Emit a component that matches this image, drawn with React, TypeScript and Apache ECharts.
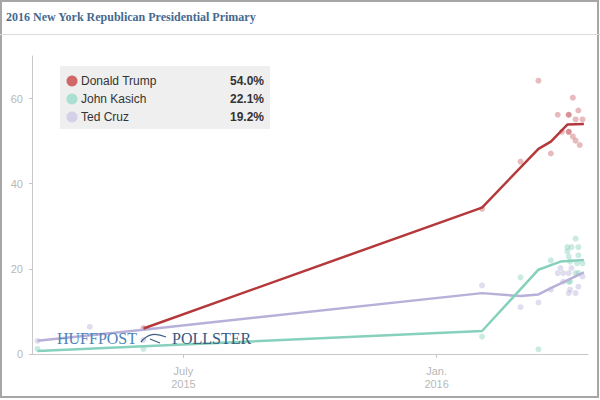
import React, { useEffect, useRef } from "react";
import * as echarts from "echarts";

const titleText = "2016 New York Republican Presidential Primary";
const candidates = ["Donald Trump", "John Kasich", "Ted Cruz"];
const finalValues = ["54.0%", "22.1%", "19.2%"];

const xRange = ["2015-03-13", "2016-04-20"];
const xTickDates = ["2015-07-01", "2016-01-01"];
const xTickLabels = ["July\n2015", "Jan.\n2016"];
const yTicks = [0, 20, 40, 60];

const trumpTrend: [string, number][] = [
  ["2015-06-02", 6.0], ["2016-02-03", 34.4], ["2016-03-15", 48.2],
  ["2016-03-24", 49.9], ["2016-04-05", 53.9], ["2016-04-17", 54.0],
];
const kasichTrend: [string, number][] = [
  ["2015-03-17", 0.7], ["2016-02-03", 5.4], ["2016-03-15", 19.8],
  ["2016-03-31", 21.7], ["2016-04-17", 22.1],
];
const cruzTrend: [string, number][] = [
  ["2015-03-17", 3.1], ["2015-06-02", 5.7], ["2016-02-03", 14.3],
  ["2016-03-02", 13.6], ["2016-03-15", 14.0], ["2016-03-24", 15.5],
  ["2016-04-17", 19.2],
];

const trumpPolls: [string, number][] = [
  ["2015-06-02", 6.1], ["2016-02-03", 34.1], ["2016-03-02", 45.2],
  ["2016-03-15", 64.2], ["2016-03-24", 47.1], ["2016-03-29", 56.2],
  ["2016-04-01", 52.2], ["2016-04-06", 56.2], ["2016-04-06", 56.2],
  ["2016-04-06", 52.2], ["2016-04-06", 52.2], ["2016-04-09", 60.2],
  ["2016-04-09", 51.1], ["2016-04-11", 55.1], ["2016-04-11", 50.1],
  ["2016-04-13", 57.2], ["2016-04-14", 49.1], ["2016-04-16", 55.1],
];
const kasichPolls: [string, number][] = [
  ["2015-03-17", 1.2], ["2015-06-02", 1.2], ["2016-02-03", 4.1],
  ["2016-03-02", 18.0], ["2016-03-15", 1.1], ["2016-03-24", 22.0],
  ["2016-04-05", 25.1], ["2016-04-05", 24.1], ["2016-04-06", 22.9],
  ["2016-04-07", 21.7], ["2016-04-08", 25.1], ["2016-04-07", 17.0],
  ["2016-04-06", 17.0], ["2016-04-11", 27.1], ["2016-04-11", 19.0],
  ["2016-04-12", 21.3], ["2016-04-13", 25.1], ["2016-04-13", 23.2],
  ["2016-04-13", 19.0], ["2016-04-16", 21.3],
];
const cruzPolls: [string, number][] = [
  ["2015-03-17", 3.1], ["2015-04-24", 6.4], ["2015-06-02", 3.3],
  ["2016-02-03", 16.1], ["2016-03-02", 11.0], ["2016-03-15", 12.1],
  ["2016-03-24", 15.1], ["2016-03-29", 19.0], ["2016-03-31", 20.2],
  ["2016-04-02", 19.0], ["2016-04-02", 17.0], ["2016-04-06", 19.0],
  ["2016-04-06", 14.3], ["2016-04-07", 15.1], ["2016-04-08", 20.2],
  ["2016-04-11", 14.3], ["2016-04-13", 15.8], ["2016-04-16", 18.2],
];

const lineColors = ["#b5393b", "#86d0bc", "#b8b0d8"];
const dotColors = ["rgba(195,85,90,0.5)", "rgba(120,205,182,0.5)", "rgba(178,170,214,0.5)"];
const legendColors = ["#d06868", "#a9e0d1", "#d4d0e8"];

const ts = (d: string) => {
  const [y, m, day] = d.split("-").map(Number);
  return Date.UTC(y, m - 1, day);
};
const toXY = (arr: [string, number][]) => arr.map(([d, v]) => [ts(d), v]);

export default function App() {
  const ref = useRef<HTMLDivElement>(null);
  useEffect(() => {
    document.body.style.margin = "0";
    const chart = echarts.init(ref.current!, null, { renderer: "svg" });
    const tickTs = xTickDates.map(ts);
    const trends = [trumpTrend, kasichTrend, cruzTrend];
    const polls = [trumpPolls, kasichPolls, cruzPolls];
    const order = [2, 1, 0];
    const series: any[] = [];
    order.forEach((i) => {
      series.push({
        type: "scatter",
        data: toXY(polls[i]),
        symbolSize: 6,
        itemStyle: { color: dotColors[i] },
        z: 2,
      });
    });
    order.forEach((i) => {
      series.push({
        type: "line",
        data: toXY(trends[i]),
        showSymbol: false,
        symbol: "none",
        lineStyle: { color: lineColors[i], width: 2.5 },
        z: 3,
      });
    });

    const legendGraphics: any[] = [
      { type: "rect", shape: { x: 60, y: 66, width: 210, height: 63 }, style: { fill: "#efefef" }, z: 50 },
    ];
    candidates.forEach((name, i) => {
      const cy = 81 + i * 18;
      legendGraphics.push(
        { type: "circle", shape: { cx: 72, cy, r: 5.5 }, style: { fill: legendColors[i] }, z: 51 },
        {
          type: "text", x: 81, y: cy,
          style: { text: name, fill: "#333", font: "12px 'Liberation Sans', Arial, sans-serif", textVerticalAlign: "middle" },
          z: 51,
        },
        {
          type: "text", x: 264, y: cy,
          style: { text: finalValues[i], fill: "#333", font: "bold 12px 'Liberation Sans', Arial, sans-serif", textAlign: "right", textVerticalAlign: "middle" },
          z: 51,
        }
      );
    });

    chart.setOption({
      animation: false,
      grid: { left: 32, top: 56, right: 12, bottom: 46 },
      xAxis: {
        type: "value",
        min: ts(xRange[0]),
        max: ts(xRange[1]),
        axisLine: { lineStyle: { color: "#c8c8c8" } },
        axisTick: { show: true, length: 4, customValues: tickTs, lineStyle: { color: "#c8c8c8" } },
        splitLine: { show: false },
        axisLabel: {
          customValues: tickTs,
          color: "#b8b8b8",
          fontSize: 11,
          lineHeight: 13,
          margin: 10,
          fontFamily: "'Liberation Sans', Arial, sans-serif",
          formatter: (v: number) => {
            const i = tickTs.findIndex((t) => Math.abs(t - v) < 43200000);
            return i >= 0 ? xTickLabels[i] : "";
          },
        },
      },
      yAxis: {
        type: "value",
        min: 0,
        max: 70,
        interval: 20,
        axisLine: { show: true, lineStyle: { color: "#c8c8c8" } },
        axisTick: { show: true, length: 3, customValues: yTicks, lineStyle: { color: "#c8c8c8" } },
        splitLine: { show: false },
        axisLabel: {
          customValues: yTicks,
          color: "#b8b8b8",
          fontSize: 11,
          margin: 9,
          fontFamily: "'Liberation Sans', Arial, sans-serif",
        },
      },
      series,
      graphic: [
        { type: "rect", shape: { x: 1, y: 1, width: 597, height: 396 }, style: { fill: "none", stroke: "#a6a6a6", lineWidth: 2 }, z: 100 },
        { type: "line", shape: { x1: 0, y1: 34.5, x2: 600, y2: 34.5 }, style: { stroke: "#dcdcdc", lineWidth: 1 }, z: 100 },
        {
          type: "text", x: 6, y: 17,
          style: { text: titleText, fill: "#45698f", font: "bold 12px 'Liberation Serif', 'Times New Roman', serif", textVerticalAlign: "middle" },
          z: 100,
        },
        ...legendGraphics,
        {
          type: "text", x: 57, y: 338,
          style: { text: "HUFFPOST", fill: "#4f84b8", font: "16px 'Liberation Serif', 'Times New Roman', serif", textVerticalAlign: "middle" },
          z: 60,
        },
        {
          type: "bezierCurve",
          shape: { x1: 141, y1: 342, cpx1: 148, cpy1: 333, cpx2: 156, cpy2: 333, x2: 166, y2: 337 },
          style: { stroke: "#3c5f86", lineWidth: 1.3, fill: "none" },
          z: 60,
        },
        {
          type: "line",
          shape: { x1: 150, y1: 339, x2: 160, y2: 343 },
          style: { stroke: "#3c5f86", lineWidth: 1.2 },
          z: 60,
        },
        {
          type: "text", x: 172, y: 338,
          style: { text: "POLLSTER", fill: "#365a82", font: "16px 'Liberation Serif', 'Times New Roman', serif", textVerticalAlign: "middle" },
          z: 60,
        },
      ],
    });
    return () => chart.dispose();
  }, []);
  return <div ref={ref} style={{ width: 600, height: 400 }} />;
}
